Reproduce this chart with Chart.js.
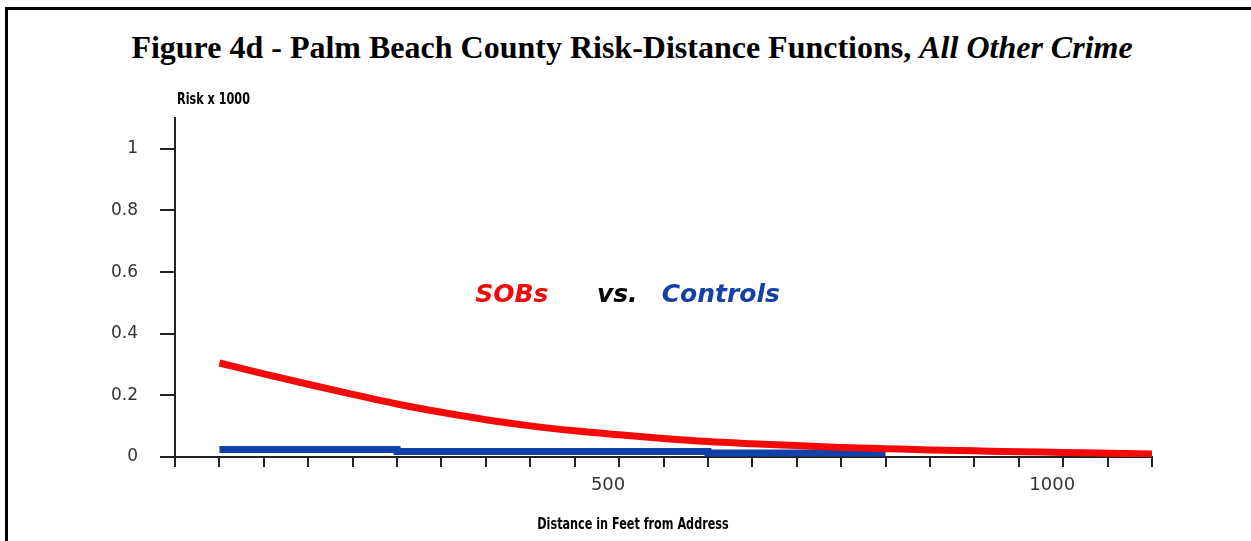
<!DOCTYPE html>
<html>
<head>
<style>
    body { margin: 0; background: #fff; }
    #frame { position: absolute; left: 5px; top: 7px; width: 1300px; height: 600px;
             border-left: 3px solid #000; border-top: 3px solid #000; }
    #title { position: absolute; left: 0; top: 28px; width: 1264px; text-align: center;
             font-family: "Liberation Serif", "Times New Roman", serif; font-weight: bold;
             font-size: 32px; color: #000; line-height: 38px; }
    #wrap { position: absolute; left: 0; top: 0; width: 1251px; height: 541px; }
</style>
</head>
<body>
    <div id="frame"></div>
    <div id="title">Figure 4d - Palm Beach County Risk-Distance Functions, <i>All Other Crime</i></div>
    <div id="wrap"><canvas id="myChart" width="1251" height="541"></canvas></div>

    <script src="https://cdn.jsdelivr.net/npm/chart.js@4/dist/chart.umd.min.js"></script>
    <script>
        // distance in feet, read every 50 ft
        const distance = [50, 100, 150, 200, 250, 300, 350, 400, 450, 500, 550,
                          600, 650, 700, 750, 800, 850, 900, 950, 1000, 1050, 1100];
        const sobRisk = [0.305, 0.270, 0.236, 0.203, 0.172, 0.145, 0.121, 0.101, 0.085, 0.072, 0.060,
                         0.050, 0.043, 0.037, 0.031, 0.027, 0.023, 0.020, 0.017, 0.015, 0.012, 0.010];
        const controlDistance = [50, 100, 150, 200, 250, 300, 350, 400, 450, 500, 550, 600, 650, 700, 750, 800];
        const controlRisk = [0.024, 0.024, 0.024, 0.024, 0.024, 0.018, 0.018, 0.018, 0.018, 0.018, 0.018,
                             0.018, 0.013, 0.013, 0.013, 0.013];
        const yTicks = [0, 0.2, 0.4, 0.6, 0.8, 1];
        const xTicks = [0, 50, 100, 150, 200, 250, 300, 350, 400, 450, 500, 550,
                        600, 650, 700, 750, 800, 850, 900, 950, 1000, 1050, 1100];
        const xLabelled = [500, 1000];

        // narrow text like the old bitmap font
        function narrowText(ctx, text, x, y, align) {
            ctx.save();
            ctx.translate(x, y);
            ctx.scale(0.78, 1);
            ctx.textAlign = align;
            ctx.fillText(text, 0, 0);
            ctx.restore();
        }

        const textPlugin = {
            id: 'texts',
            afterDraw(chart) {
                const ctx = chart.ctx;
                const x = chart.scales.x, y = chart.scales.y;
                ctx.save();
                ctx.textBaseline = 'middle';
                ctx.fillStyle = '#000';
                ctx.font = 'bold 16px "DejaVu Sans Condensed", "DejaVu Sans", sans-serif';
                narrowText(ctx, 'Risk x 1000', x.left + 2, y.top - 18, 'left');
                narrowText(ctx, 'Distance in Feet from Address', 633, 525, 'center');

                ctx.textAlign = 'left';
                ctx.font = 'italic bold 25px "DejaVu Sans", sans-serif';
                const ty = y.getPixelForValue(0.525);
                ctx.fillStyle = '#f00a0a';
                ctx.fillText('SOBs', x.getPixelForValue(338), ty);
                ctx.fillStyle = '#000';
                ctx.fillText('vs.', x.getPixelForValue(475), ty);
                ctx.fillStyle = '#1440a8';
                ctx.fillText('Controls', x.getPixelForValue(548), ty);
                ctx.restore();
            }
        };

        const myChart = new Chart("myChart", {
            type: "line",
            data: {
                datasets: [{
                    data: distance.map((d, i) => ({x: d, y: sobRisk[i]})),
                    borderColor: "#f50a0a",
                    borderWidth: 7,
                    pointRadius: 0,
                    cubicInterpolationMode: 'monotone'
                }, {
                    data: controlDistance.map((d, i) => ({x: d, y: controlRisk[i]})),
                    borderColor: "#1142aa",
                    borderWidth: 7,
                    pointRadius: 0,
                    stepped: 'after'
                }]
            },
            options: {
                responsive: false,
                animation: false,
                layout: {padding: {top: 118, right: 99, left: 0, bottom: 0}},
                plugins: {legend: {display: false}, tooltip: {enabled: false}},
                scales: {
                    x: {
                        type: 'linear', min: 0, max: 1100,
                        afterBuildTicks: s => { s.ticks = xTicks.map(v => ({value: v})); },
                        afterFit: s => { s.height = 84; },
                        border: {color: '#222', width: 2},
                        grid: {drawOnChartArea: false, tickLength: 10, color: '#222', lineWidth: 2},
                        ticks: {
                            padding: 8, labelOffset: -11, color: '#333', maxRotation: 0, autoSkip: false,
                            font: {family: '"DejaVu Sans"', size: 18},
                            callback: v => xLabelled.includes(v) ? String(v) : ''
                        }
                    },
                    y: {
                        min: 0, max: 1.1,
                        afterBuildTicks: s => { s.ticks = yTicks.map(v => ({value: v})); },
                        afterFit: s => { s.width = 175; },
                        border: {color: '#222', width: 2},
                        grid: {drawOnChartArea: false, tickLength: 15, color: '#222', lineWidth: 2},
                        ticks: {
                            padding: 22, color: '#333',
                            font: {family: '"DejaVu Sans"', size: 17},
                            callback: v => String(v)
                        }
                    }
                }
            },
            plugins: [textPlugin]
        });
    </script>
</body>
</html>
